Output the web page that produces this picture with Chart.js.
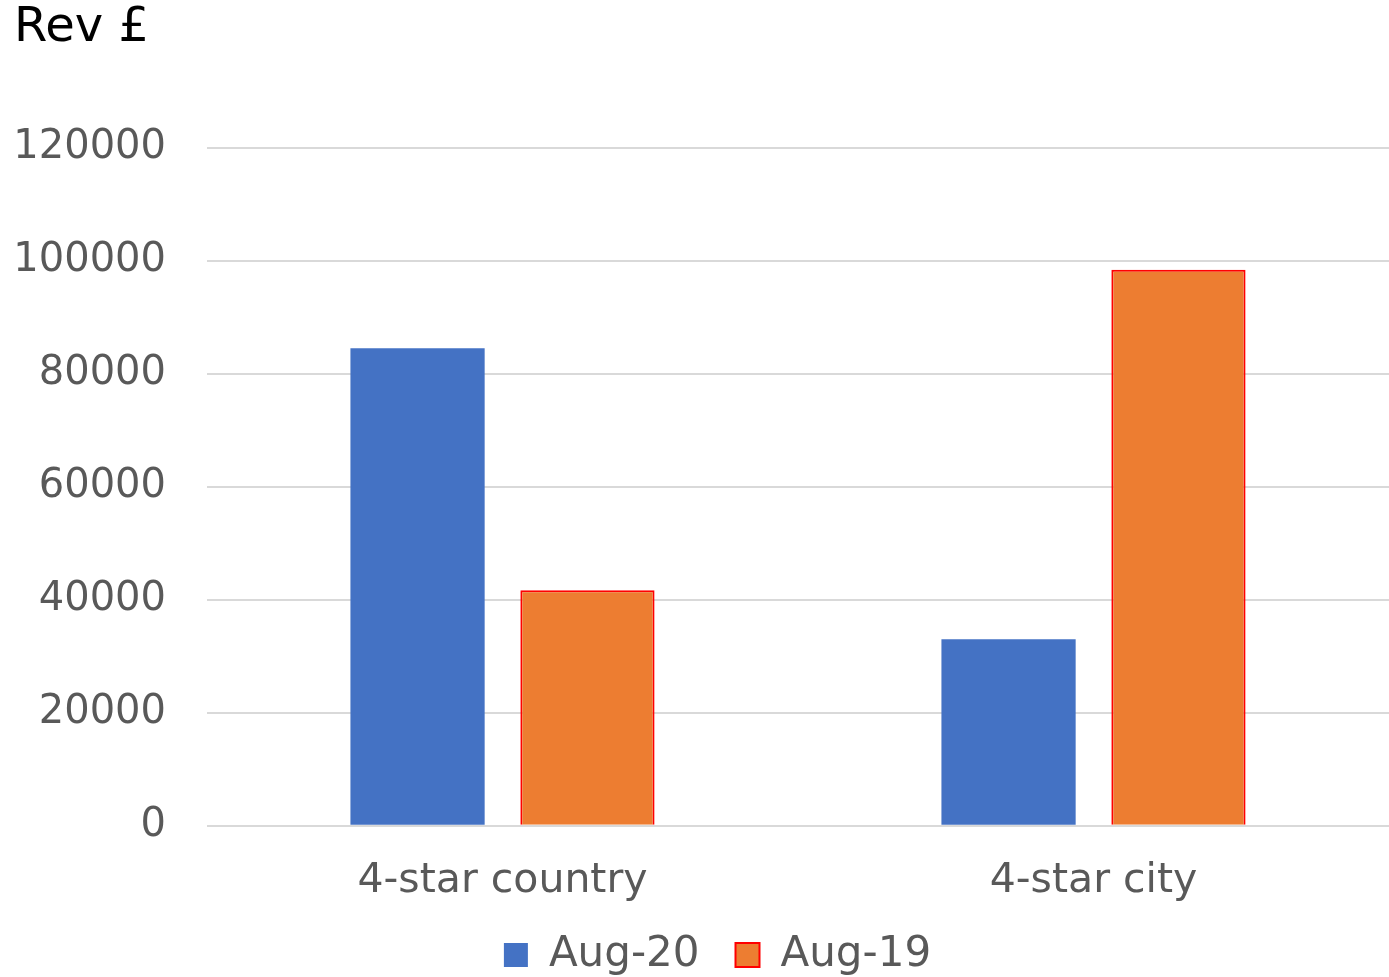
<!DOCTYPE html>
<html>
<head>
<meta charset="utf-8">
<script src="https://cdn.jsdelivr.net/npm/chart.js@4"></script>
<style>
  html, body { margin: 0; padding: 0; background: #fff; }
  #wrap { width: 1389px; height: 977px; }
</style>
</head>
<body>
<div id="wrap"><canvas id="revChart" width="1389" height="977"></canvas></div>
<script>
const categories = ['4-star country', '4-star city'];
const aug20 = [84500, 33000];
const aug19 = [41700, 98400];
const yTicks = [0, 20000, 40000, 60000, 80000, 100000, 120000];

const fontFamily = "'DejaVu Sans', sans-serif";

// keep the legend strip short while its items stay widely spaced
const legendStrip = {
    id: 'legendStrip',
    afterInit(chart) {
        const legend = chart.legend;
        const fit = legend.fit;
        legend.fit = function() {
            fit.call(this);
            this.height = 48;
        };
        const draw = legend.draw;
        legend.draw = function() {
            this.top -= 31;
            this.left += 16;
            this.right += 16;
            draw.call(this);
            this.top += 31;
            this.left -= 16;
            this.right -= 16;
        };
    }
};

const ctx = document.getElementById('revChart').getContext('2d');
const revChart = new Chart(ctx, {
    type: 'bar',
    data: {
        labels: categories,
        datasets: [
            {
                label: 'Aug-20',
                data: aug20,
                backgroundColor: '#4472C4',
                borderWidth: 0
            },
            {
                label: 'Aug-19',
                data: aug19,
                backgroundColor: '#ED7D31',
                borderColor: '#FF0000',
                borderWidth: 2
            }
        ]
    },
    options: {
        responsive: false,
        animation: false,
        categoryPercentage: 0.575,
        barPercentage: 0.79,
        layout: { padding: { left: 14, right: 0, top: 0, bottom: 0 } },
        plugins: {
            title: {
                display: true,
                text: 'Rev £',
                align: 'start',
                color: '#000',
                font: { size: 48, family: fontFamily, weight: 'normal' },
                padding: { top: 0, bottom: 90 }
            },
            legend: {
                position: 'bottom',
                labels: {
                    color: '#595959',
                    boxWidth: 24,
                    boxHeight: 24,
                    padding: 36,
                    font: { size: 42, family: fontFamily }
                }
            },
            tooltip: { enabled: false }
        },
        scales: {
            y: {
                min: 0,
                max: 120000,
                afterBuildTicks: function(axis) {
                    axis.ticks = yTicks.map(v => ({ value: v }));
                },
                afterFit: function(axis) {
                    axis.width = 193;
                },
                grid: { color: '#d9d9d9', lineWidth: 2, drawTicks: false },
                border: { display: false },
                ticks: {
                    color: '#595959',
                    padding: 41,
                    font: { size: 40, family: fontFamily },
                    callback: function(value) { return String(value); }
                }
            },
            x: {
                grid: { display: false },
                border: { display: false },
                ticks: {
                    color: '#595959',
                    padding: 23,
                    font: { size: 41, family: fontFamily }
                }
            }
        }
    },
    plugins: [legendStrip]
});
</script>
</body>
</html>
